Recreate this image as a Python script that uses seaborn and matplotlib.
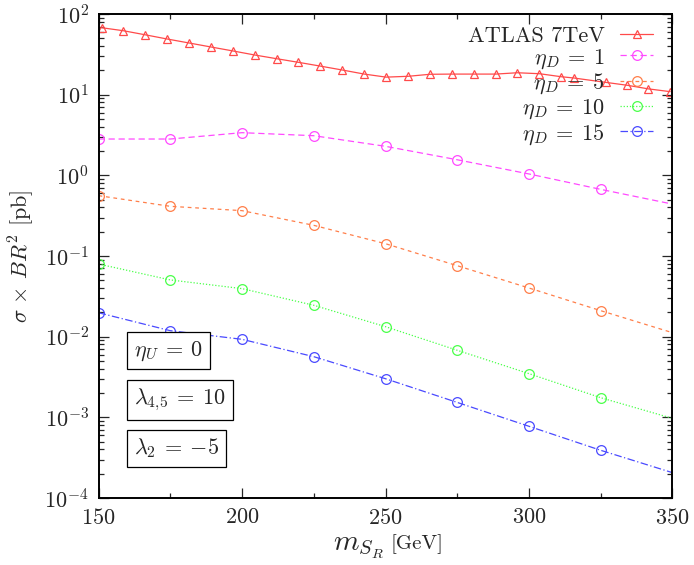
import numpy as np
import pandas as pd
import seaborn as sns
import matplotlib.pyplot as plt
from matplotlib.ticker import MultipleLocator, LogLocator, LogFormatterMathtext, NullFormatter

# --- estilo general ---
sns.set_style("ticks")
plt.rcParams["font.family"] = "serif"
plt.rcParams["font.serif"] = ["cmr10", "DejaVu Serif"]
plt.rcParams["mathtext.fontset"] = "cm"
plt.rcParams["axes.formatter.use_mathtext"] = True
plt.rcParams["axes.unicode_minus"] = False

# --- datos ---
atlas_mass = [151.1, 158.6, 166.2, 173.9, 181.6, 189.2, 196.9, 204.5, 212.1,
              219.6, 227.3, 235.0, 242.6, 250.2, 257.9, 265.5, 273.1, 280.8,
              288.4, 295.9, 303.6, 311.2, 315.6, 326.8, 334.1, 341.6, 349.2]
atlas_xsec = [67.6, 62.1, 55.3, 49.0, 43.7, 39.0, 34.8, 31.0, 27.9,
              25.2, 22.6, 20.2, 18.0, 16.5, 16.9, 17.9, 18.0, 18.0,
              18.0, 18.7, 18.2, 16.7, 16.1, 14.2, 13.1, 11.8, 10.9]

mass = [150, 175, 200, 225, 250, 275, 300, 325, 350]
eta_d_1 = [2.82, 2.82, 3.38, 3.10, 2.29, 1.56, 1.04, 0.67, 0.44]
eta_d_5 = [0.56, 0.413, 0.365, 0.240, 0.142, 0.0758, 0.0401, 0.0210, 0.0112]
eta_d_10 = [0.0796, 0.0505, 0.0394, 0.0245, 0.0133, 0.00678, 0.00348, 0.00175, 0.00097]
eta_d_15 = [0.0198, 0.01186, 0.00927, 0.00565, 0.00301, 0.00153, 0.000774, 0.00039, 0.000206]

labels = ["ATLAS 7TeV", r"$\eta_D\:=\:1$", r"$\eta_D\:=\:5$", r"$\eta_D\:=\:10$", r"$\eta_D\:=\:15$"]
colors = ["#ff4a4a", "#ff4aff", "#ff7f4a", "#4aff4a", "#4a4aff"]
styles = ["-", (0, (5, 3)), (0, (3, 3)), (0, (1, 1.5)), (0, (6, 2, 1, 2))]
box_texts = [r"$\eta_U\:=\:0$", r"$\lambda_{4,\!5}\:=\:10$", r"$\lambda_2\:=\:{-5}$"]

fig = plt.figure(figsize=(6.94, 5.65), dpi=100)
ax = fig.add_axes([0.142, 0.1186, 0.827, 0.8566])

sns.lineplot(x=atlas_mass, y=atlas_xsec, ax=ax, color=colors[0], linestyle=styles[0],
             linewidth=0.9, marker="^", markersize=6, markerfacecolor="none",
             markeredgecolor=colors[0], markeredgewidth=0.9, label=labels[0])

for ys, lab, col, ls in zip([eta_d_1, eta_d_5, eta_d_10, eta_d_15], labels[1:], colors[1:], styles[1:]):
    sns.lineplot(x=mass, y=ys, ax=ax, color=col, linestyle=ls, linewidth=0.9,
                 marker="o", markersize=7, markerfacecolor="none", markeredgecolor=col,
                 markeredgewidth=0.9, markevery=slice(0, 8), label=lab)

ax.set_yscale("log")
ax.set_xlim(150, 350)
ax.set_ylim(1e-4, 1e2)

ax.xaxis.set_major_locator(MultipleLocator(50))
ax.xaxis.set_minor_locator(MultipleLocator(25))
ax.yaxis.set_major_locator(LogLocator(base=10, numticks=20))
ax.yaxis.set_major_formatter(LogFormatterMathtext())
ax.yaxis.set_minor_locator(LogLocator(base=10, subs=np.arange(2, 10), numticks=20))
ax.yaxis.set_minor_formatter(NullFormatter())

ax.tick_params(which="both", direction="in", top=True, right=True, labelsize=16, width=0.9)
ax.tick_params(which="major", length=7, pad=7)
ax.tick_params(which="minor", length=3.5)
for sp in ax.spines.values():
    sp.set_linewidth(1.4)
    sp.set_color("black")

ax.xaxis.label.set_visible(False)
ax.set_ylabel(r"$\sigma\,\times\,BR^2$ [pb]", fontsize=16, labelpad=6)
fig.text(0.553, 0.028, r"$m_{S_R}$", fontsize=21, ha="right", va="baseline")
fig.text(0.562, 0.028, "[GeV]", fontsize=15, ha="left", va="baseline")

leg = ax.legend(loc="upper right", bbox_to_anchor=(0.982, 0.993), frameon=False,
                markerfirst=False, fontsize=16, handlelength=1.5, handletextpad=0.7,
                labelspacing=0.05, borderaxespad=0.0)

for txt, yy in zip(box_texts, [0.304, 0.202, 0.103]):
    ax.text(0.062, yy, txt, transform=ax.transAxes, fontsize=16, ha="left", va="center",
            bbox=dict(boxstyle="square,pad=0.3", facecolor="white", edgecolor="black", linewidth=0.9))

fig.savefig("out.png", dpi=100)
